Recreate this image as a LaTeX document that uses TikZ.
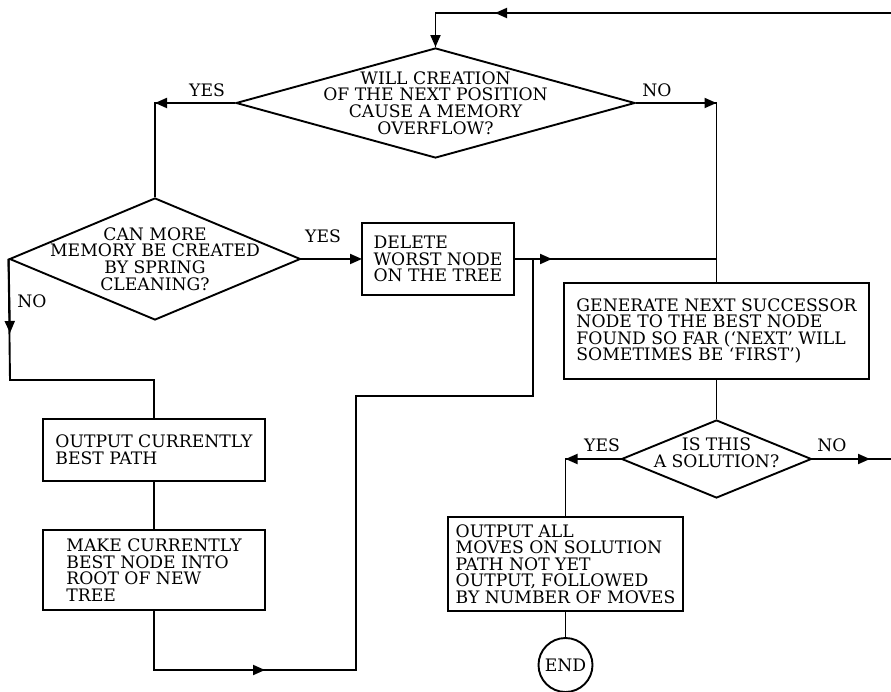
\documentclass[tikz,border=0pt]{standalone}
\usepackage{fontspec}
\setmainfont{DejaVu Serif}
\usetikzlibrary{shapes.geometric,arrows.meta}
\tikzset{
  txt/.style={font=\fontsize{17.2pt}{16.6pt}\selectfont},
  flow/.style={line width=1.9pt},
  arr/.style={line width=1.9pt,-{Triangle[length=12pt,width=10pt]}},
  dia/.style={draw,diamond,line width=1.9pt,inner sep=0pt},
  lbl/.style={txt,align=center,inner sep=0pt},
  box/.style={draw,rectangle,line width=1.9pt,inner sep=0pt,outer sep=0pt,txt,align=left,anchor=north west},
  yn/.style={txt,inner sep=0pt},
}
\begin{document}
\begin{tikzpicture}[x=1pt,y=-1pt]
\useasboundingbox[fill=white] (0,0) rectangle (891,692);

% decisions
\node[dia,minimum width=399pt,minimum height=110pt,
  label={[lbl]center:{WILL CREATION\\OF THE NEXT POSITION\\CAUSE A MEMORY\\OVERFLOW?}}]
  (d1) at (435.5,103) {};
\node[dia,minimum width=291pt,minimum height=122pt,
  label={[lbl]center:{CAN MORE\\MEMORY BE CREATED\\BY SPRING\\CLEANING?}}]
  (d2) at (155,259) {};
\node[dia,minimum width=190pt,minimum height=78pt,
  label={[lbl,yshift=6pt]center:{IS THIS\\A SOLUTION?}}]
  (d3) at (716.5,459) {};

% boxes
\node[box,minimum width=152pt,minimum height=72pt] (del) at (362,223)
  {DELETE\\WORST NODE\\ON THE TREE};
\node[box,minimum width=305pt,minimum height=96pt] (gen) at (564,283)
  {GENERATE NEXT SUCCESSOR\\NODE TO THE BEST NODE\\FOUND SO FAR (`NEXT' WILL\\SOMETIMES BE `FIRST')};
\node[box,minimum width=235pt,minimum height=94pt] (oall) at (448,517)
  {OUTPUT ALL\\MOVES ON SOLUTION\\PATH NOT YET\\OUTPUT, FOLLOWED\\BY NUMBER OF MOVES};
\node[box,minimum width=222pt,minimum height=62pt] (ocur) at (43,419)
  {OUTPUT CURRENTLY\\BEST PATH};
\node[box,minimum width=222pt,minimum height=80pt] (make) at (43,530)
  {MAKE CURRENTLY\\BEST NODE INTO\\ROOT OF NEW\\TREE};
\node[draw,circle,line width=1.9pt,minimum size=54pt,inner sep=0pt,txt] (end) at (565.5,665) {END};

% labels
\node[yn] (y1) at (207,90) {YES};
\node[yn] (n1) at (657,90) {NO};
\node[yn] (y2) at (323,236) {YES};
\node[yn] (n2) at (32,301) {NO};
\node[yn] (y3) at (602,445) {YES};
\node[yn] (n3) at (832,445) {NO};

% coordinates
\coordinate (tr) at (891,13);
\coordinate (ta) at (495,13);
\coordinate (tl) at (d1.north |- tr);
\coordinate (c1) at (d2.north |- d1.west);
\coordinate (c2) at (gen.north |- d1.east);
\coordinate (c3) at (gen.north |- del.east);
\coordinate (a5) at (552,259);
\coordinate (c4) at (10,380);
\coordinate (a6) at (10,333);
\coordinate (c5) at (ocur.north |- c4);
\coordinate (a8) at (265,670);
\coordinate (c6) at (make.south |- a8);
\coordinate (c7) at (356,670);
\coordinate (c8) at (356,396);
\coordinate (c9) at (533,396);
\coordinate (c10) at (c9 |- del.east);
\coordinate (c11) at (oall.north |- d3.west);
\coordinate (c12) at (891,459);
\coordinate (a11) at (870,459);

% connectors
\draw[flow] (tr) -- (tl) -- (d1.north);
\draw[arr] (tr) -- (ta);
\draw[arr] (tl) -- (d1.north);

\draw[flow] (d1.west) -- (c1) -- (d2.north);
\draw[arr] (d1.west) -- (c1);

\draw[flow] (d1.east) -- (c2) -- (gen.north);
\draw[arr] (d1.east) -- (c2);

\draw[arr] (d2.east) -- (d2.east -| del.west);

\draw[flow] (del.east) -- (c3);
\draw[arr] (del.east) -- (a5);

\draw[flow] (d2.west) -- (c4) -- (c5) -- (ocur.north);
\draw[arr] (d2.west) -- (a6);

\draw[flow] (ocur.south) -- (make.north);

\draw[flow] (make.south) -- (c6) -- (c7) -- (c8) -- (c9) -- (c10);
\draw[arr] (c6) -- (a8);

\draw[flow] (gen.south) -- (d3.north);

\draw[flow] (d3.west) -- (c11) -- (oall.north);
\draw[arr] (d3.west) -- (c11);

\draw[flow] (d3.east) -- (c12);
\draw[arr] (d3.east) -- (a11);

\draw[flow] (oall.south) -- (end.north);
\end{tikzpicture}
\end{document}
